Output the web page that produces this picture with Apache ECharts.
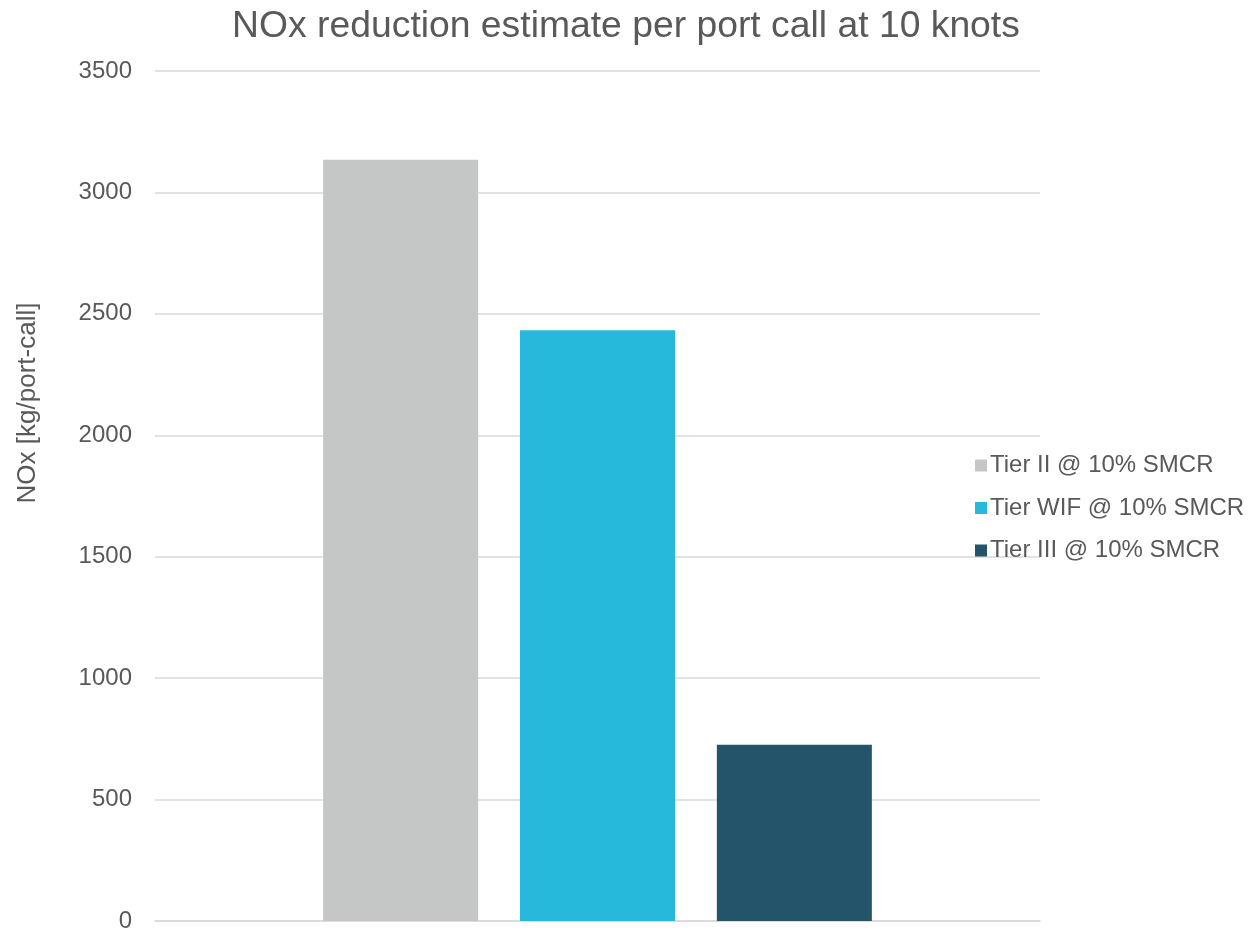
<!DOCTYPE html>
<html>
<head>
<meta charset="utf-8">
<script src="https://cdn.jsdelivr.net/npm/echarts@6/dist/echarts.min.js"></script>
<style>
  html, body { margin: 0; padding: 0; background: #ffffff; }
  #chart { width: 1248px; height: 933px; }
</style>
</head>
<body>
<div id="chart"></div>
<script>
// NOx per port call at 10 knots, one category with three engine configurations
const categories = [''];
const seriesNames = ['Tier II @ 10% SMCR', 'Tier WIF @ 10% SMCR', 'Tier III @ 10% SMCR'];
const seriesValues = [[3135], [2433], [726]];
const seriesColors = ['#c5c7c6', '#27b9dc', '#24546a'];
const yAxisTitle = 'NOx [kg/port-call]';

const textColor = '#595959';
const fontFamily = '"Liberation Sans", Arial, sans-serif';

const chart = echarts.init(document.getElementById('chart'));

chart.setOption({
  backgroundColor: '#ffffff',
  animation: false,
  textStyle: { fontFamily: fontFamily, color: textColor },
  title: {
    text: 'NOx reduction estimate per port call at 10 knots',
    left: 621,
    top: 3,
    textAlign: 'center',
    textStyle: { fontFamily: fontFamily, fontSize: 37.3, fontWeight: 'normal', color: textColor }
  },
  legend: {
    orient: 'vertical',
    left: 970,
    top: 448,
    itemWidth: 12,
    itemHeight: 12,
    itemGap: 17.5,
    icon: 'rect',
    textStyle: { fontFamily: fontFamily, fontSize: 24, lineHeight: 25, color: textColor, padding: [0, 0, 0, -2] },
    data: seriesNames
  },
  // vertical axis title sits above the axis midpoint
  graphic: [{
    type: 'text',
    x: 28,
    y: 403,
    rotation: Math.PI / 2,
    style: {
      text: yAxisTitle,
      fontFamily: fontFamily,
      fontSize: 26,
      fill: textColor,
      align: 'center',
      verticalAlign: 'middle'
    }
  }],
  grid: { left: 155, right: 208, top: 71, bottom: 8, containLabel: false },
  xAxis: {
    type: 'category',
    data: categories,
    axisLine: { show: true, lineStyle: { color: '#d9d9d9', width: 1.5 } },
    axisTick: { show: false },
    axisLabel: { show: false }
  },
  yAxis: {
    type: 'value',
    min: 0,
    max: 3500,
    interval: 500,
    axisLine: { show: false },
    axisTick: { show: false },
    axisLabel: {
      fontFamily: fontFamily,
      fontSize: 24,
      color: textColor,
      margin: 23,
      formatter: (v) => String(v)
    },
    splitLine: { lineStyle: { color: '#d9d9d9', width: 1.5 } }
  },
  series: seriesNames.map((name, i) => ({
    name: name,
    type: 'bar',
    data: seriesValues[i],
    barWidth: 155,
    barGap: '27%',
    itemStyle: { color: seriesColors[i] }
  }))
});
</script>
</body>
</html>
